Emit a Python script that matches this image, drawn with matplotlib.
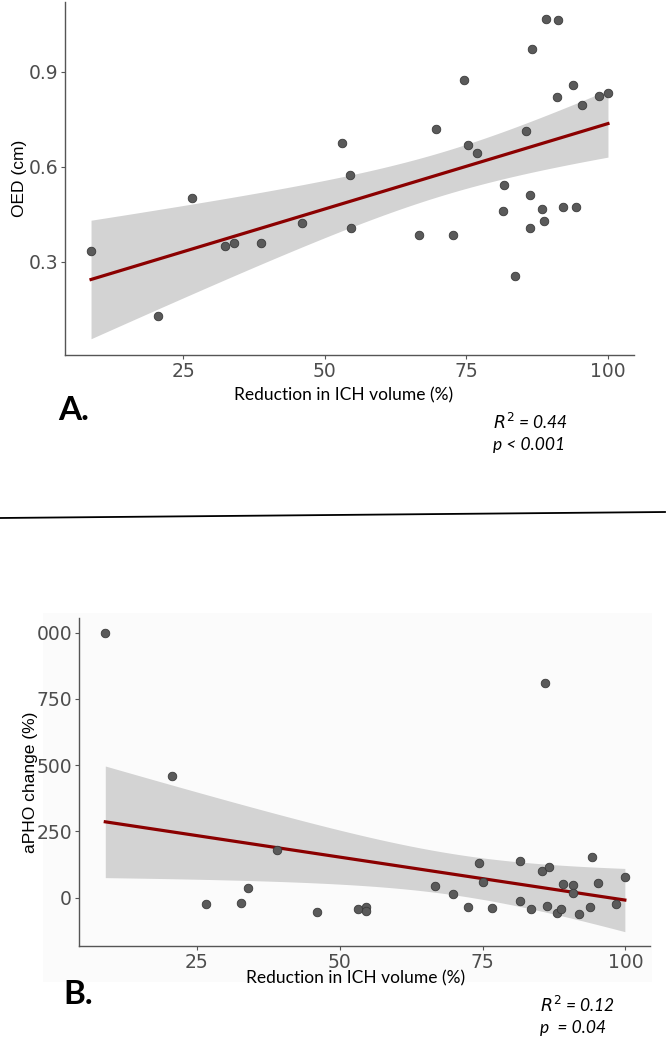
import numpy as np
import matplotlib
matplotlib.use("Agg")
import matplotlib.pyplot as plt
from matplotlib.lines import Line2D
from matplotlib.patches import Rectangle

# ---------------- data ----------------
reduction_a = [8.7, 20.5, 26.5, 32.4, 33.9, 38.8, 45.9, 53.1, 54.4, 54.6,
               66.7, 69.7, 72.6, 74.5, 75.2, 76.8, 81.5, 81.7, 83.5, 85.6,
               86.3, 86.3, 86.6, 88.3, 88.7, 89.0, 91.0, 91.1, 92.0, 93.9,
               94.4, 95.4, 98.5, 100.0]
oed_cm = [0.333, 0.127, 0.502, 0.351, 0.359, 0.359, 0.422, 0.674, 0.575, 0.407,
          0.383, 0.718, 0.383, 0.874, 0.669, 0.643, 0.461, 0.541, 0.256, 0.714,
          0.512, 0.405, 0.972, 0.468, 0.429, 1.066, 0.820, 1.064, 0.473, 0.858,
          0.473, 0.795, 0.824, 0.834]

reduction_b = [9.0, 20.7, 26.7, 32.7, 34.0, 39.0, 46.0, 53.3, 54.6, 54.6,
               66.6, 69.8, 72.5, 74.4, 75.0, 76.7, 81.5, 81.5, 83.4, 85.4,
               86.2, 86.0, 86.6, 88.1, 88.7, 89.0, 90.9, 90.9, 91.8, 93.8,
               94.2, 95.2, 98.3, 99.9]
apho_change = [1000, 458, -23, -20, 35, 181, -54, -44, -35, -49,
               43, 14, -35, 132, 58, -38, 137, -11, -44, 102,
               -31, 808, 116, -57, -41, 50, 48, 19, -60, -35,
               153, 54, -25, 78]

xticks = [25, 50, 75, 100]
yticks_a = [0.3, 0.6, 0.9]
yticks_b = [0, 250, 500, 750, 1000]
yticklabels_b = ["0", "250", "500", "750", "000"]

T_CRIT = 2.037  # t(0.975, df=32)

W, H = 667, 1041
fig = plt.figure(figsize=(W / 100, H / 100), dpi=100)
fig.patch.set_facecolor("white")

# light background of the pasted panel B image
fig.add_artist(Rectangle((43 / W, 1 - 982 / H), (652 - 43) / W, (982 - 613) / H,
                         transform=fig.transFigure, facecolor="#fbfbfb",
                         edgecolor="none", zorder=0))


def fit_band(x, y, ax):
    x = np.asarray(x, float)
    y = np.asarray(y, float)
    n = len(x)
    b1, b0 = np.polyfit(x, y, 1)
    resid = y - (b0 + b1 * x)
    s = np.sqrt(np.sum(resid ** 2) / (n - 2))
    xs = np.linspace(x.min(), x.max(), 200)
    sxx = np.sum((x - x.mean()) ** 2)
    se = s * np.sqrt(1 / n + (xs - x.mean()) ** 2 / sxx)
    yh = b0 + b1 * xs
    ax.fill_between(xs, yh - T_CRIT * se, yh + T_CRIT * se, color="#d3d3d3",
                    lw=0, zorder=1)
    ax.plot(xs, yh, color="#8b0000", lw=2.3, zorder=3)


def style(ax):
    ax.set_facecolor("none")
    for s in ["top", "right"]:
        ax.spines[s].set_visible(False)
    for s in ["left", "bottom"]:
        ax.spines[s].set_color("#555555")
        ax.spines[s].set_linewidth(1.0)
    ax.tick_params(colors="#555555", length=3, width=0.8, labelsize=13.5,
                   labelcolor="#4d4d4d", pad=2)
    for lab in ax.get_xticklabels() + ax.get_yticklabels():
        lab.set_family(["Liberation Sans Narrow", "DejaVu Sans"])


# ---------------- Panel A ----------------
axA = fig.add_axes([65 / W, 1 - 355 / H, (634 - 65) / W, (355 - 2) / H])
fit_band(reduction_a, oed_cm, axA)
axA.scatter(reduction_a, oed_cm, s=38, color="#5a5a5a", edgecolor="#3a3a3a",
            linewidth=0.6, zorder=4)
axA.set_xlim(4.1, 104.6)
axA.set_ylim(0.005, 1.121)
axA.set_xticks(xticks)
axA.set_yticks(yticks_a)
axA.set_yticklabels([f"{v:.1f}" for v in yticks_a])
style(axA)
axA.set_ylabel("OED (cm)", fontsize=12.5, family="Liberation Sans", labelpad=1)
fig.text(344 / W, 1 - 395 / H, "Reduction in ICH volume (%)", ha="center",
         va="center", fontsize=12.5, family="Lato")
fig.text(58 / W, 1 - 410 / H, "A.", ha="left", va="center", fontsize=24,
         fontweight="bold", family="Lato")
fig.text(493 / W, 1 - 422 / H, r"$R^2$ = 0.44", ha="left", va="center",
         fontsize=12.5, style="italic", family="Lato")
fig.text(493 / W, 1 - 445 / H, "p < 0.001", ha="left", va="center",
         fontsize=12.5, style="italic", family="Lato")

# divider line
fig.add_artist(Line2D([0, 665 / W], [1 - 518 / H, 1 - 512 / H],
                      transform=fig.transFigure, color="black", lw=1.3))

# ---------------- Panel B ----------------
axB = fig.add_axes([79 / W, 1 - 946 / H, (650 - 79) / W, (946 - 618) / H])
fit_band(reduction_b, apho_change, axB)
axB.scatter(reduction_b, apho_change, s=38, color="#5a5a5a", edgecolor="#3a3a3a",
            linewidth=0.6, zorder=4)
axB.set_xlim(4.4, 104.3)
axB.set_ylim(-182, 1055)
axB.set_xticks(xticks)
axB.set_yticks(yticks_b)
axB.set_yticklabels(yticklabels_b)
style(axB)
axB.set_ylabel("aPHO change (%)", fontsize=12.5, family="Liberation Sans", labelpad=-1)
fig.text(356 / W, 1 - 978 / H, "Reduction in ICH volume (%)", ha="center",
         va="center", fontsize=12.5, family="Lato")
fig.text(63 / W, 1 - 995 / H, "B.", ha="left", va="center", fontsize=24,
         fontweight="bold", family="Lato")
fig.text(540 / W, 1 - 1005 / H, r"$R^2$ = 0.12", ha="left", va="center",
         fontsize=12.5, style="italic", family="Lato")
fig.text(540 / W, 1 - 1028 / H, "p  = 0.04", ha="left", va="center",
         fontsize=12.5, style="italic", family="Lato")

fig.savefig("out.png", dpi=100)
